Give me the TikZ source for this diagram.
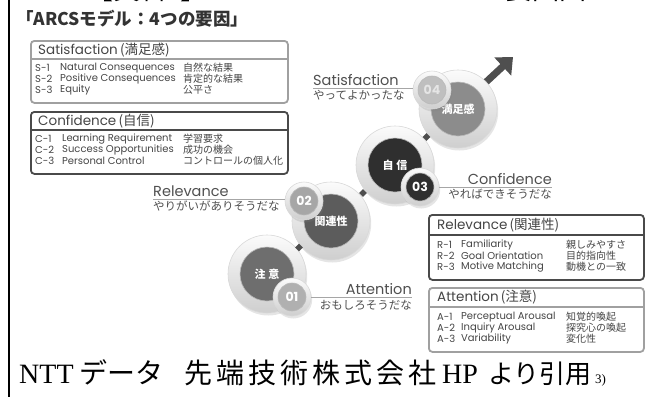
\documentclass[tikz,border=0pt]{standalone}
\usepackage{fontspec}
\setmainfont{Liberation Serif}
\newfontfamily\pop{Poppins}
\newfontfamily\jp{Noto Sans CJK JP}
\usetikzlibrary{shadows,arrows.meta,calc,shapes.geometric}
\definecolor{txtgray}{HTML}{454545}
\definecolor{lblgray}{HTML}{505050}
\definecolor{boxlight}{HTML}{A0A0A0}
\definecolor{boxdark}{HTML}{4A4A4A}
\definecolor{attcore}{HTML}{6E6E6E}
\definecolor{relcore}{HTML}{5C5C5C}
\definecolor{concore}{HTML}{2F2F2F}
\definecolor{satcore}{HTML}{8C8C8C}
\definecolor{arrowgray}{HTML}{4F4F4F}
\definecolor{titlegray}{HTML}{333333}
\begin{document}
\begin{tikzpicture}[x=1pt,y=-1pt,
 panel/.style={draw, rounded corners=3.5pt, line width=1.8pt, anchor=north west, inner sep=0pt, minimum height=62pt},
 hdr/.style={anchor=west, inner sep=0pt, text=txtgray, font=\pop\fontsize{13.5}{13.5}\selectfont},
 itm/.style={anchor=west, inner sep=0pt, text=txtgray, font=\pop\fontsize{10}{10}\selectfont},
 itmj/.style={itm, font=\jp\fontsize{10}{10}\selectfont},
 lbl/.style={inner sep=0pt, text=lblgray, font=\pop\fontsize{14.5}{14.5}\selectfont},
 lblj/.style={inner sep=0pt, text=lblgray, font=\jp\fontsize{11.5}{11.5}\selectfont},
 uline/.style={draw=gray!70, line width=0.9pt},
 ring/.style={circle, inner sep=0pt, top color=gray!3, bottom color=gray!38, draw=gray!30, line width=0.6pt,
   drop shadow={shadow xshift=1.2pt, shadow yshift=-2.5pt, opacity=0.2}},
 bigring/.style={ring, minimum size=78pt},
 smallring/.style={ring, minimum size=38pt},
 core/.style={circle, inner sep=0pt, text=white, draw=gray!55, line width=0.6pt},
 bigcore/.style={core, minimum size=54pt, font=\jp\bfseries\fontsize{11}{11}\selectfont},
 smallcore/.style={core, minimum size=28pt, font=\pop\bfseries\fontsize{12.5}{12.5}\selectfont},
 joint/.style={diamond, fill=arrowgray, inner sep=0pt, minimum size=8pt},
 bigarrow/.style={draw=arrowgray, line width=7pt, -{Triangle[length=14pt,width=24pt]}},
 src/.style={anchor=base west, inner sep=0pt, font=\fontsize{28}{28}\selectfont},
 srcj/.style={src, font=\jp\fontsize{28}{28}\selectfont}
]
\useasboundingbox (0,0) rectangle (656,397);
\fill[white] (0,0) rectangle (656,397);
\draw[line width=1.5pt] (9,0) -- (9,397);

% clipped heading at the top
\node[anchor=base west, inner sep=0pt, font=\jp\fontsize{27}{27}\selectfont] (toph1) at (86,-1) {【資料{\rmfamily 3}】};
\node[anchor=base west, inner sep=0pt, font=\jp\fontsize{27}{27}\selectfont] (toph2) at (505,-1) {要因図};

% title
\node[anchor=west, inner sep=0pt, text=titlegray, font=\jp\bfseries\fontsize{17.5}{17.5}\selectfont] (title) at (16,19) {「ARCSモデル：4つの要因」};

% Satisfaction panel
\node[panel, draw=boxlight, minimum width=257pt] (satbox) at (30,40) {};
\node[hdr] (sathd) at (38,50) {Satisfaction{\jp\,(満足感)}};
\draw[draw=boxlight, line width=1.2pt] (satbox.west |- 0,59) -- (satbox.east |- 0,59);
\foreach \c/\n/\j [count=\i] in {S-1/Natural Consequences/自然な結果,S-2/Positive Consequences/肯定的な結果,S-3/Equity/公平さ}{
  \node[itm] (sc\i) at (35,{57+11*\i}) {\c};
  \node[itm] (sn\i) at (60,{57+11*\i}) {\n};
  \node[itmj] (sj\i) at (183,{57+11*\i}) {\j};
}

% Confidence panel
\node[panel, draw=boxdark, minimum width=257pt] (conbox) at (30,111) {};
\node[hdr] (conhd) at (38,121) {Confidence{\jp\,(自信)}};
\draw[draw=boxdark, line width=1.2pt] (conbox.west |- 0,130) -- (conbox.east |- 0,130);
\foreach \c/\n/\j [count=\i] in {C-1/Learning Requirement/学習要求,C-2/Success Opportunities/成功の機会,C-3/Personal Control/コントロールの個人化}{
  \node[itm] (cc\i) at (35,{128+11*\i}) {\c};
  \node[itm] (cn\i) at (62,{128+11*\i}) {\n};
  \node[itmj] (cj\i) at (183,{128+11*\i}) {\j};
}

% Relevance panel
\node[panel, draw=boxdark, minimum width=215pt, minimum height=65pt] (relbox) at (428,214) {};
\node[hdr] (relhd) at (437,225) {Relevance{\jp\,(関連性)}};
\draw[draw=boxdark, line width=1.2pt] (relbox.west |- 0,235) -- (relbox.east |- 0,235);
\foreach \c/\n/\j [count=\i] in {R-1/Familiarity/親しみやすさ,R-2/Goal Orientation/目的指向性,R-3/Motive Matching/動機との一致}{
  \node[itm] (rc\i) at (437,{234+11*\i}) {\c};
  \node[itm] (rn\i) at (461,{234+11*\i}) {\n};
  \node[itmj] (rj\i) at (566,{234+11*\i}) {\j};
}

% Attention panel
\node[panel, draw=boxlight, minimum width=215pt, minimum height=64pt] (attbox) at (428,287) {};
\node[hdr] (atthd) at (437,297) {Attention{\jp\,(注意)}};
\draw[draw=boxlight, line width=1.2pt] (attbox.west |- 0,307) -- (attbox.east |- 0,307);
\foreach \c/\n/\j [count=\i] in {A-1/Perceptual Arousal/知覚的喚起,A-2/Inquiry Arousal/探究心の喚起,A-3/Variability/変化性}{
  \node[itm] (ac\i) at (437,{306+11*\i}) {\c};
  \node[itm] (an\i) at (461,{306+11*\i}) {\n};
  \node[itmj] (aj\i) at (566,{306+11*\i}) {\j};
}

% arrow out of Satisfaction
\coordinate (arrowtip) at (513,57);
\draw[bigarrow] (471,96) -- (arrowtip);

% step circles
\node[bigring] (attring) at (267,274) {};
\node[bigcore, fill=attcore] (attcore) at (attring) {注\hspace{3pt}意};
\node[bigring] (relring) at (331,221) {};
\node[bigcore, fill=relcore] (relcore) at (relring) {関連性};
\node[bigring] (conring) at (395,165) {};
\node[bigcore, fill=concore] (concore) at (conring) {自\hspace{3pt}信};
\node[bigring] (satring) at (458,109) {};
\node[bigcore, fill=satcore] (satcore) at (satring) {満足感};

% joints
\path (attring) -- node[joint] (j1) {} (relring);
\path (relring) -- node[joint] (j2) {} (conring);
\path (conring) -- node[joint] (j3) {} (satring);

% number circles
\node[smallring] (n01) at (292,297) {};
\node[smallcore, fill=gray!62] (c01) at (n01) {01};
\node[smallring] (n02) at (304,201) {};
\node[smallcore, fill=gray!70] (c02) at (n02) {02};
\node[smallring] (n03) at (420,187) {};
\node[smallcore, fill=concore] (c03) at (n03) {03};
\node[smallring] (n04) at (432,90) {};
\node[smallcore, fill=gray!50, text=gray!20] (c04) at (n04) {04};

% labels
\node[lbl, anchor=base west] (satlbl) at (313,85) {Satisfaction};
\node[lblj, anchor=base west] (satsub) at (313,99) {やってよかったな};
\coordinate (satend) at (313,88);
\draw[uline] (satend) -- (satend -| n04.west);

\node[lbl, anchor=base west] (rellbl) at (153,196) {Relevance};
\node[lblj, anchor=base west] (relsub) at (153,210) {やりがいがありそうだな};
\coordinate (relend) at (153,199);
\draw[uline] (relend) -- (relend -| n02.west);

\node[lbl, anchor=base east] (conlbl) at (552,184) {Confidence};
\node[lblj, anchor=base east] (consub) at (552,198) {やればできそうだな};
\coordinate (conend) at (552,187);
\draw[uline] (n03.east |- conend) -- (conend);

\node[lbl, anchor=base east] (attlbl) at (412,294) {Attention};
\node[lblj, anchor=base east] (attsub) at (412,309) {おもしろそうだな};
\coordinate (attend) at (412,297);
\draw[uline] (n01.east |- attend) -- (attend);

% source line
\node[src] (srcA) at (19,383) {NTT};
\node[srcj] (srcB) at (79,383) {データ};
\node[srcj] (srcC) at (184,383) {先\hspace{4pt}端\hspace{4pt}技\hspace{4pt}術\hspace{4pt}株\hspace{4pt}式\hspace{4pt}会\hspace{4pt}社};
\node[src] (srcD) at (442,383) {HP};
\node[srcj, font=\jp\fontsize{26}{26}\selectfont] (srcE) at (488,383) {より引用};
\node[src, font=\fontsize{13}{13}\selectfont] (srcF) at (595,383) {3)};
\end{tikzpicture}
\end{document}
